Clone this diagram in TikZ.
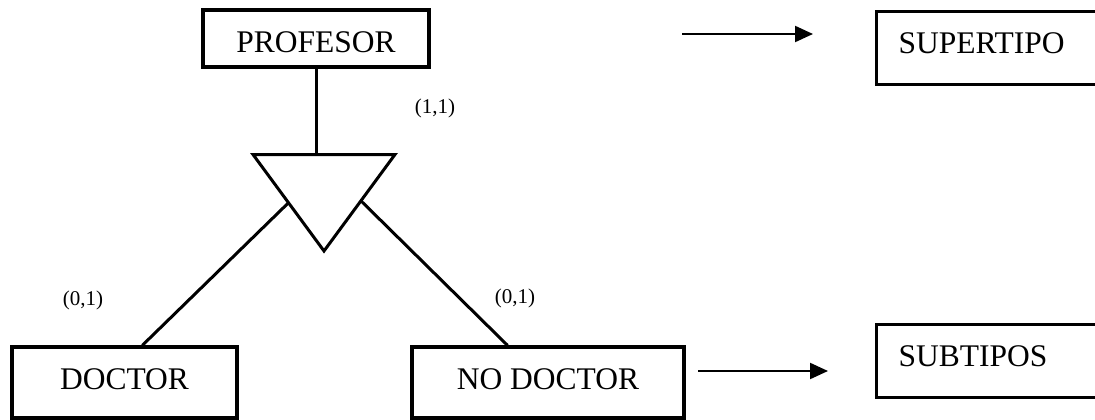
\documentclass[tikz,border=0pt]{standalone}
\usepackage{fontspec}
\setmainfont{Liberation Serif}
\usetikzlibrary{arrows.meta,calc}
\begin{document}
\begin{tikzpicture}[x=1pt,y=-1pt,
  entity/.style={draw,line width=3.2pt,inner sep=0pt,font=\fontsize{31.5}{36}\selectfont},
  legend/.style={entity,anchor=north west,align=left,inner xsep=22pt,text width=201pt,
    minimum height=73pt,text height=21pt,text depth=10pt},
  link/.style={line width=3pt},
  card/.style={font=\fontsize{21}{24}\selectfont},
  pointer/.style={line width=2.2pt,-{Triangle[length=18pt,width=16pt]}}]
  \useasboundingbox (0,0) rectangle (1095,420);
  \clip (0,0) rectangle (1095,420);

  % entities
  \node[entity,minimum width=226pt,minimum height=57pt,text height=28pt,text depth=0pt] (prof) at (316,38.5) {PROFESOR};
  \node[entity,minimum width=225pt,minimum height=71pt,text height=21pt,text depth=7pt] (doc) at (124.5,382.5) {DOCTOR};
  \node[entity,minimum width=272pt,minimum height=71pt,text height=21pt,text depth=7pt] (nodoc) at (548,382.5) {NO DOCTOR};

  % specialisation triangle
  \coordinate (tl) at (253,154.5);
  \coordinate (tr) at (395,154.5);
  \coordinate (ap) at (324,251);
  \draw[link,line join=miter] (tl) -- (tr) -- (ap) -- cycle;
  \coordinate (jl) at ($(tl)!0.5!(ap)$);
  \coordinate (jr) at ($(tr)!0.48!(ap)$);

  % connectors
  \draw[link] (prof.south) -- (prof.south |- tl);
  \draw[link] (jl) -- ($(doc.north west)!0.578!(doc.north east)$);
  \draw[link] (jr) -- ($(nodoc.north west)!0.353!(nodoc.north east)$);

  % cardinalities
  \node[card] (c11) at (435,108) {(1,1)};
  \node[card] (c01a) at (83,300) {(0,1)};
  \node[card] (c01b) at (515,298) {(0,1)};

  % legend
  \node[legend] (sup) at (875,10) {SUPERTIPO};
  \node[legend] (sub) at (875,323) {SUBTIPOS};
  \coordinate (a1s) at (682,34);
  \coordinate (a1e) at (813,34);
  \coordinate (a2s) at (698,371);
  \coordinate (a2e) at (828,371);
  \draw[pointer] (a1s) -- (a1e);
  \draw[pointer] (a2s) -- (a2e);
\end{tikzpicture}
\end{document}
